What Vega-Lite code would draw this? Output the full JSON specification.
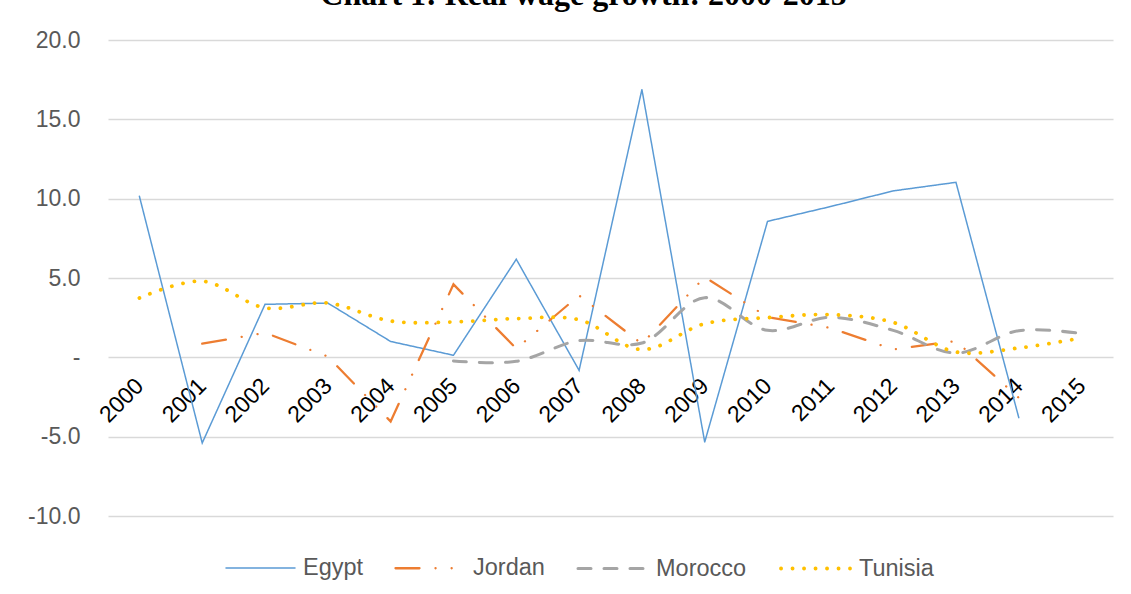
{
  "$schema": "https://vega.github.io/schema/vega-lite/v6.json",
  "width": 1005,
  "height": 476,
  "autosize": {"type": "none"},
  "padding": {"left": 108, "top": 40, "right": 18, "bottom": 78},
  "background": "white",
  "title": {
    "text": "Chart 1: Real wage growth: 2000-2015",
    "font": "Liberation Serif",
    "fontSize": 32,
    "fontWeight": "bold",
    "color": "#000000",
    "anchor": "middle",
    "frame": "group",
    "dx": -27,
    "baseline": "bottom",
    "offset": -15
  },
  "config": {
    "view": {"stroke": null},
    "font": "Liberation Sans"
  },
  "data": {
    "values": [
      {"year": "2000", "country": "Egypt", "value": 10.15},
      {"year": "2001", "country": "Egypt", "value": -5.4},
      {"year": "2002", "country": "Egypt", "value": 3.34},
      {"year": "2003", "country": "Egypt", "value": 3.42},
      {"year": "2004", "country": "Egypt", "value": 1.0},
      {"year": "2005", "country": "Egypt", "value": 0.13},
      {"year": "2006", "country": "Egypt", "value": 6.18},
      {"year": "2007", "country": "Egypt", "value": -0.82},
      {"year": "2008", "country": "Egypt", "value": 16.88},
      {"year": "2009", "country": "Egypt", "value": -5.34},
      {"year": "2010", "country": "Egypt", "value": 8.57},
      {"year": "2011", "country": "Egypt", "value": 9.5},
      {"year": "2012", "country": "Egypt", "value": 10.49},
      {"year": "2013", "country": "Egypt", "value": 11.03},
      {"year": "2014", "country": "Egypt", "value": -3.8},
      {"year": "2001", "country": "Jordan", "value": 0.86},
      {"year": "2002", "country": "Jordan", "value": 1.55},
      {"year": "2003", "country": "Jordan", "value": 0.05},
      {"year": "2004", "country": "Jordan", "value": -4.04},
      {"year": "2005", "country": "Jordan", "value": 4.6},
      {"year": "2006", "country": "Jordan", "value": 0.55},
      {"year": "2007", "country": "Jordan", "value": 3.9},
      {"year": "2008", "country": "Jordan", "value": 0.85},
      {"year": "2009", "country": "Jordan", "value": 5.06},
      {"year": "2010", "country": "Jordan", "value": 2.54},
      {"year": "2011", "country": "Jordan", "value": 1.85},
      {"year": "2012", "country": "Jordan", "value": 0.5},
      {"year": "2013", "country": "Jordan", "value": 1.03},
      {"year": "2014", "country": "Jordan", "value": -2.55},
      {"year": "2005", "country": "Morocco", "value": -0.23},
      {"year": "2006", "country": "Morocco", "value": -0.25},
      {"year": "2007", "country": "Morocco", "value": 1.05},
      {"year": "2008", "country": "Morocco", "value": 0.9},
      {"year": "2009", "country": "Morocco", "value": 3.76},
      {"year": "2010", "country": "Morocco", "value": 1.7},
      {"year": "2011", "country": "Morocco", "value": 2.52},
      {"year": "2012", "country": "Morocco", "value": 1.7},
      {"year": "2013", "country": "Morocco", "value": 0.27},
      {"year": "2014", "country": "Morocco", "value": 1.68},
      {"year": "2015", "country": "Morocco", "value": 1.5},
      {"year": "2000", "country": "Tunisia", "value": 3.74},
      {"year": "2001", "country": "Tunisia", "value": 4.8},
      {"year": "2002", "country": "Tunisia", "value": 3.12},
      {"year": "2003", "country": "Tunisia", "value": 3.42},
      {"year": "2004", "country": "Tunisia", "value": 2.29},
      {"year": "2005", "country": "Tunisia", "value": 2.23},
      {"year": "2006", "country": "Tunisia", "value": 2.44},
      {"year": "2007", "country": "Tunisia", "value": 2.37},
      {"year": "2008", "country": "Tunisia", "value": 0.49},
      {"year": "2009", "country": "Tunisia", "value": 2.12},
      {"year": "2010", "country": "Tunisia", "value": 2.5},
      {"year": "2011", "country": "Tunisia", "value": 2.69},
      {"year": "2012", "country": "Tunisia", "value": 2.2},
      {"year": "2013", "country": "Tunisia", "value": 0.34},
      {"year": "2014", "country": "Tunisia", "value": 0.59},
      {"year": "2015", "country": "Tunisia", "value": 1.22}
    ]
  },
  "encoding": {
    "x": {
      "field": "year",
      "type": "ordinal",
      "scale": {"type": "point", "padding": 0.5},
      "axis": {
        "title": null,
        "offset": -159,
        "domain": false,
        "ticks": false,
        "grid": false,
        "labelAngle": -45,
        "labelAlign": "right",
        "labelBaseline": "middle",
        "labelPadding": 25,
        "labelFont": "Liberation Sans",
        "labelFontSize": 23,
        "labelColor": "#000000",
        "labelOverlap": false,
        "labelBound": false
      }
    },
    "y": {
      "field": "value",
      "type": "quantitative",
      "scale": {"domain": [-10, 20], "nice": false, "zero": false},
      "axis": {
        "title": null,
        "values": [-10, -5, 0, 5, 10, 15, 20],
        "domain": false,
        "ticks": false,
        "labelPadding": 28,
        "labelFont": "Liberation Sans",
        "labelFontSize": 23,
        "labelColor": "#595959",
        "gridColor": "#d9d9d9",
        "gridWidth": 1.3,
        "labelExpr": "datum.value == 0 ? '-\u00a0\u00a0' : (datum.value < 0 ? '-' + format(-datum.value, '.1f') : format(datum.value, '.1f'))"
      }
    },
    "color": {
      "field": "country",
      "type": "nominal",
      "scale": {
        "domain": ["Egypt", "Jordan", "Morocco", "Tunisia"],
        "range": ["#5b9bd5", "#ed7d31", "#a5a5a5", "#ffc000"]
      },
      "legend": {
        "title": null,
        "orient": "none",
        "legendX": 117,
        "legendY": 492,
        "direction": "horizontal",
        "symbolType": "stroke",
        "symbolSize": 4761,
        "labelFont": "Liberation Sans",
        "labelFontSize": 23.5,
        "labelColor": "#595959",
        "columnPadding": 26,
        "labelOffset": 7,
        "encoding": {
          "symbols": {"strokeCap": {"value": "round"}}
        }
      }
    },
    "strokeDash": {
      "field": "country",
      "type": "nominal",
      "scale": {
        "domain": ["Egypt", "Jordan", "Morocco", "Tunisia"],
        "range": [[1, 0], [24, 16, 0.1, 16, 0.1, 16], [13, 13], [0.1, 11.4]]
      },
      "legend": null
    },
    "strokeWidth": {
      "field": "country",
      "type": "nominal",
      "scale": {
        "domain": ["Egypt", "Jordan", "Morocco", "Tunisia"],
        "range": [1.5, 3.8, 4, 6]
      },
      "legend": null
    }
  },
  "layer": [
    {
      "transform": [{"filter": "datum.country == 'Egypt' || datum.country == 'Jordan'"}],
      "mark": {"type": "line", "strokeCap": "round", "interpolate": "linear"}
    },
    {
      "transform": [{"filter": "datum.country == 'Morocco' || datum.country == 'Tunisia'"}],
      "mark": {"type": "line", "strokeCap": "round", "interpolate": "catmull-rom"}
    }
  ]
}
